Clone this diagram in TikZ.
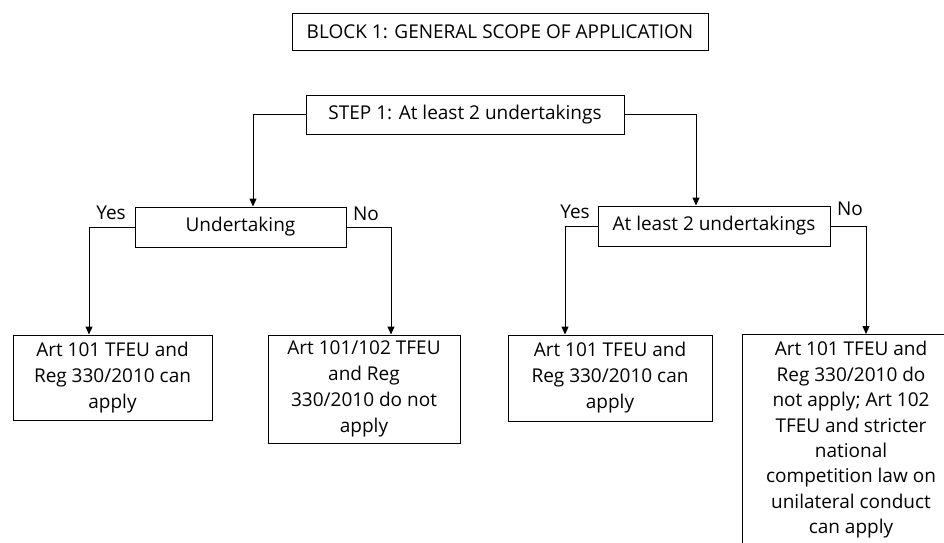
\documentclass[tikz,border=0pt]{standalone}
\usepackage{fontspec}
\setmainfont{Open Sans}
\usetikzlibrary{arrows.meta}
\begin{document}
\begin{tikzpicture}[x=1pt,y=-1pt,
  txt/.style={font=\fontsize{19}{26}\selectfont},
  box/.style={txt,draw,line width=1pt,inner sep=0pt,align=center},
  lab/.style={txt,inner sep=0pt},
  arr/.style={line width=1pt,-{Triangle[length=8pt,width=7pt]}}]
\useasboundingbox (0,0) rectangle (944,542);
\clip (0,0) rectangle (944,542);

% heading and first question
\node[box,minimum width=416pt,minimum height=37pt] (title) at (500,31.5)
  {BLOCK 1: GENERAL SCOPE OF APPLICATION};
\node[box,minimum width=318pt,minimum height=39pt] (step) at (465,114.5)
  {STEP 1: At least 2 undertakings};

% second-level questions
\node[box,minimum width=211pt,minimum height=40pt] (und) at (240.5,227) {Undertaking};
\node[box,minimum width=232pt,minimum height=40pt] (atl) at (714,226) {At least 2 undertakings};

% outcomes
\node[box,minimum width=199pt,minimum height=85pt] (ll) at (112.5,377.5)
  {Art 101 TFEU and\\Reg 330/2010 can\\apply};
\node[box,minimum width=192pt,minimum height=108pt] (lr) at (364,389)
  {Art 101/102 TFEU\\and Reg\\330/2010 do not\\apply};
\node[box,minimum width=204pt,minimum height=86pt] (rl) at (610,378)
  {Art 101 TFEU and\\Reg 330/2010 can\\apply};
\node[box,minimum width=218pt,inner ysep=7pt,anchor=north,
      font=\fontsize{19}{25.4}\selectfont] (rr) at (851,334)
  {Art 101 TFEU and\\Reg 330/2010 do\\not apply; Art 102\\TFEU and stricter\\national\\competition law on\\unilateral conduct\\can apply};

% connectors
\draw[arr] (step.west) -| ([xshift=12.5pt]und.north);
\draw[arr] (step.east) -| ([xshift=-18pt]atl.north);
\draw[arr] (und.west) -| ([xshift=-23.5pt]ll.north);
\draw[arr] (und.east) -| ([xshift=27pt]lr.north);
\draw[arr] (atl.west) -| ([xshift=-45pt]rl.north);
\draw[arr] (atl.east) -| ([xshift=15pt]rr.north);

% branch labels
\node[lab] (y1) at (111,213) {Yes};
\node[lab] (n1) at (366,214) {No};
\node[lab] (y2) at (575,212) {Yes};
\node[lab] (n2) at (850,209) {No};
\end{tikzpicture}
\end{document}
